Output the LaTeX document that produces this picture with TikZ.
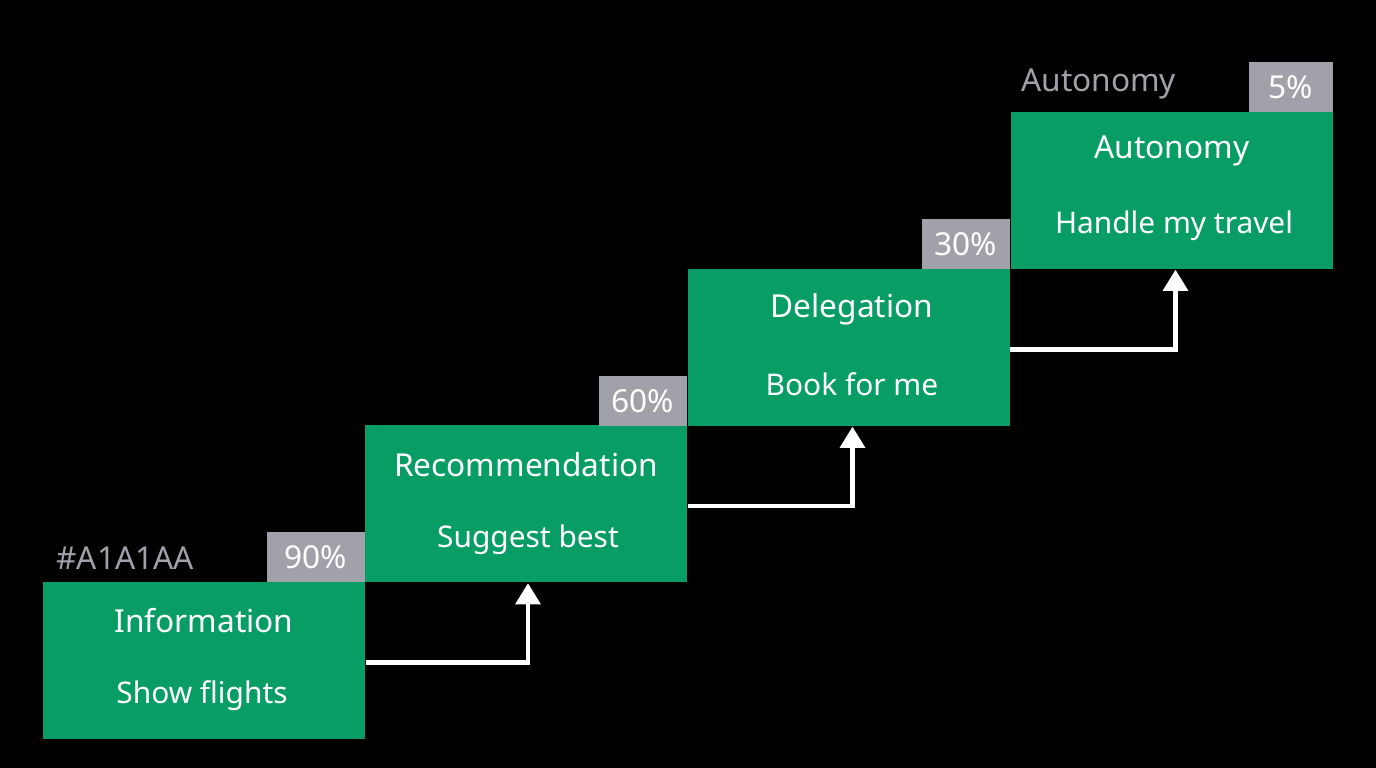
\documentclass[tikz,border=0pt]{standalone}
\usepackage{fontspec}
\setmainfont{Noto Sans}
\usetikzlibrary{arrows.meta}
\definecolor{stepgreen}{RGB}{8,157,100}
\definecolor{tagGray}{RGB}{161,161,170}
\tikzset{
  stage/.style={fill=stepgreen,minimum width=3.22cm,minimum height=1.57cm,inner sep=0pt},
  title/.style={text=white,font=\fontsize{9}{11}\selectfont\bfseries},
  sub/.style={text=white,font=\fontsize{8.5}{10}\selectfont},
  tag/.style={fill=tagGray,text=white,minimum width=0.92cm,minimum height=0.5cm,inner sep=0pt,font=\fontsize{9}{11}\selectfont},
  arrow/.style={white,line width=1.2pt,-{Triangle[width=7pt,length=6pt]}}
}
\begin{document}
\begin{tikzpicture}
\fill[black] (0,0) rectangle (13.76,7.68);
\useasboundingbox (0,0) rectangle (13.76,7.68);

\node[stage] (info) at (2.04,1.075) {};
\node[stage] (rec) at (5.26,2.64) {};
\node[stage] (deleg) at (8.485,4.205) {};
\node[stage] (auto) at (11.715,5.775) {};

\node[title] at (2.04,1.47) {Information};
\node[sub] at (2.02,0.72) {Show flights};
\node[title] at (5.26,3.03) {Recommendation};
\node[sub] at (5.28,2.28) {Suggest best};
\node[title] at (8.52,4.59) {Delegation};
\node[sub] at (8.52,3.84) {Book for me};
\node[title] at (11.72,6.17) {Autonomy};
\node[sub] at (11.74,5.42) {Handle my travel};

% percentage tags
\node[tag,minimum width=0.98cm] (t90) at (3.16,2.11) {90\%};
\node[tag,minimum width=0.88cm] (t60) at (6.43,3.67) {60\%};
\node[tag,minimum width=0.88cm] (t30) at (9.66,5.24) {30\%};
\node[tag,minimum width=0.84cm] (t5) at (12.91,6.81) {5\%};

\node[text=tagGray,anchor=west,font=\fontsize{9}{11}\selectfont] (hex) at (0.44,2.1) {\#A1A1AA};
\node[text=tagGray,anchor=west,font=\fontsize{9}{11}\selectfont] (lbl) at (10.09,6.84) {Autonomy};

\draw[arrow] ([yshift=-0.02cm]info.east) -| ([xshift=0.02cm]rec.south);
\draw[arrow] ([yshift=-0.02cm]rec.east) -| ([xshift=0.04cm]deleg.south);
\draw[arrow] ([yshift=-0.02cm]deleg.east) -| ([xshift=0.04cm]auto.south);
\end{tikzpicture}
\end{document}
